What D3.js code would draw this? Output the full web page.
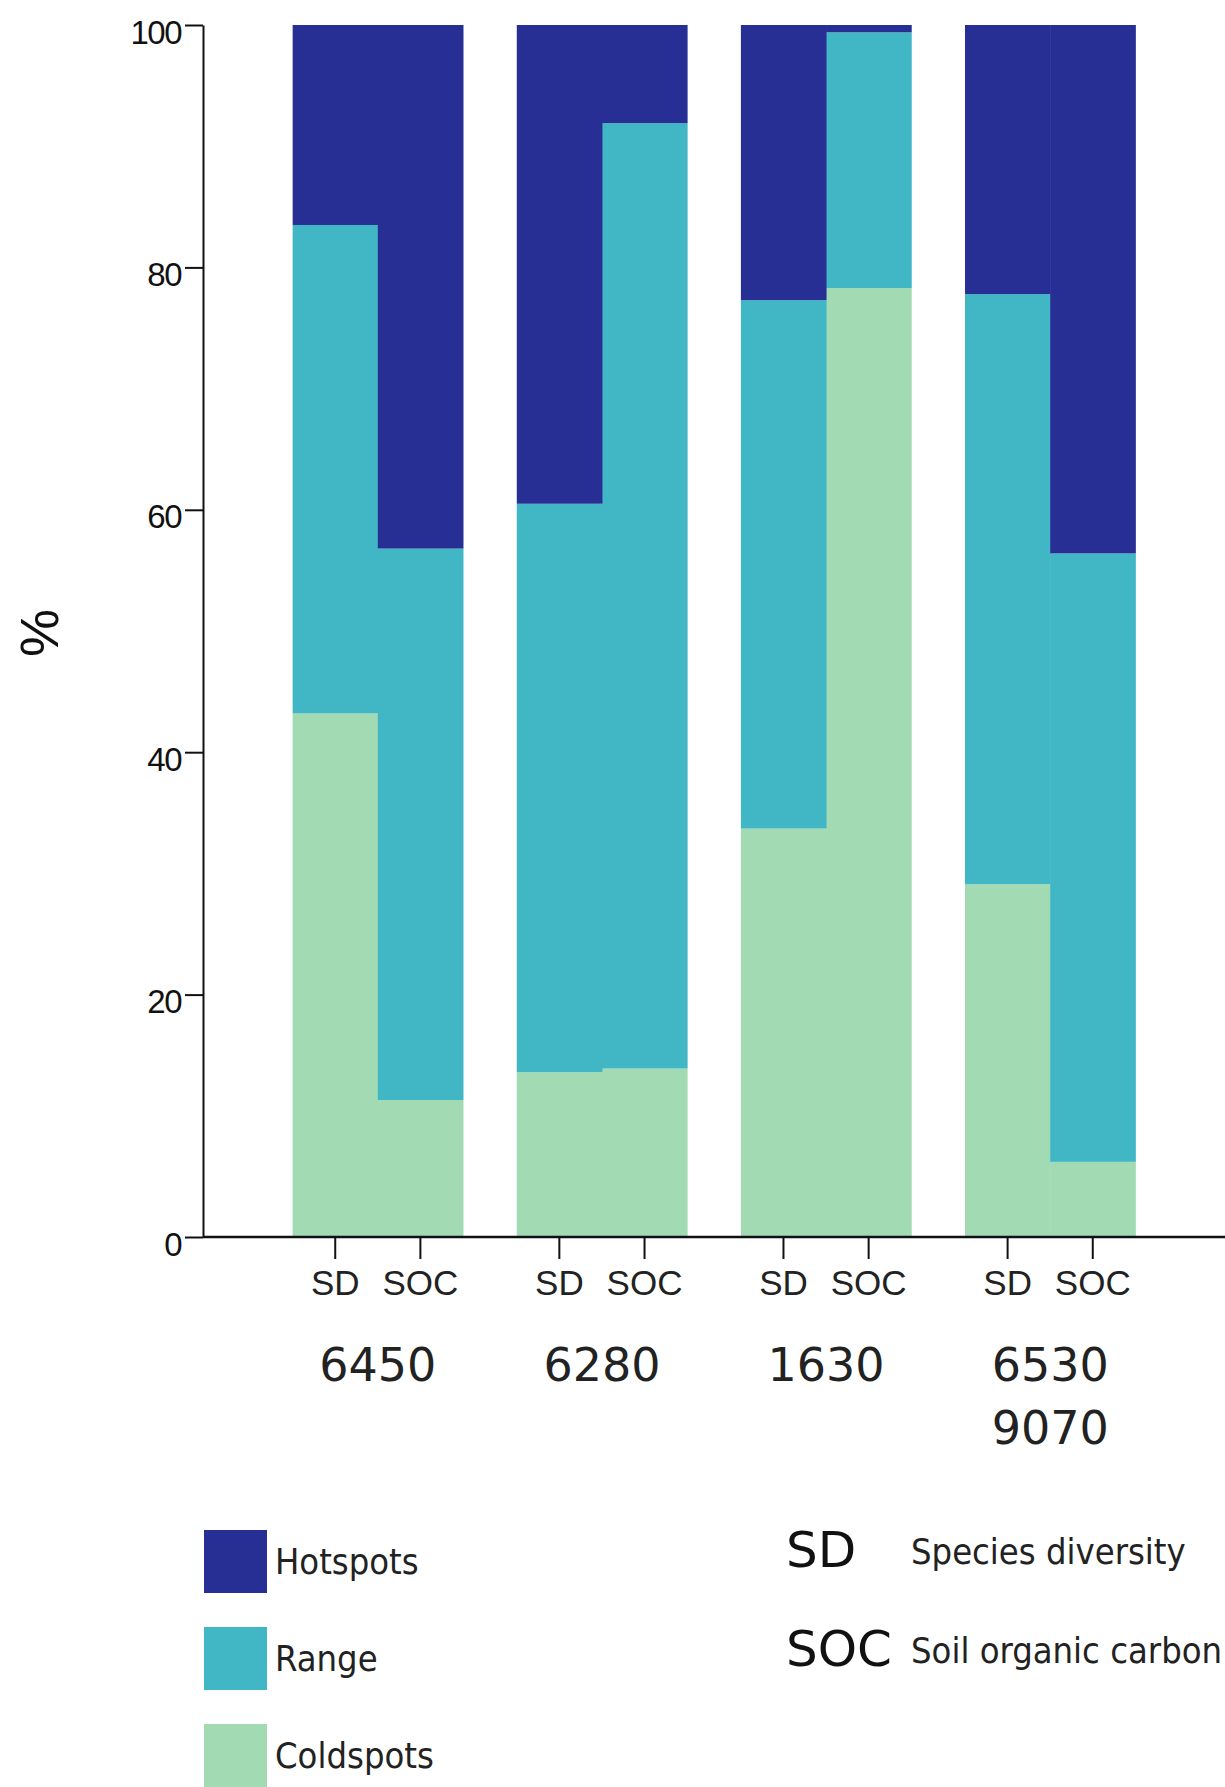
<!DOCTYPE html>
<html><head><meta charset="utf-8">
<script src="https://cdn.jsdelivr.net/npm/d3@7"></script>
<style>
html,body{margin:0;padding:0;background:#fff;}
svg{display:block;}
</style></head>
<body>
<svg id="chart" width="1225" height="1787"></svg>
<script>
// ---- data ----
const groups = ["6450", "6280", "1630", "6530\n9070"];
const measures = ["SD", "SOC"];
const seriesNames = ["Coldspots", "Range", "Hotspots"];
// values per bar, order: 6450 SD, 6450 SOC, 6280 SD, 6280 SOC, 1630 SD, 1630 SOC, 6530 SD, 6530 SOC
const coldspots = [43.2, 11.3, 13.6, 13.9, 33.7, 78.3, 29.1, 6.2];
const rangeVals = [40.3, 45.5, 46.9, 78.0, 43.6, 21.1, 48.7, 50.2];
const hotspots  = [16.5, 43.2, 39.5, 8.1, 22.7, 0.6, 22.2, 43.6];
const yTicks = [0, 20, 40, 60, 80, 100];
const legendOrder = ["Hotspots", "Range", "Coldspots"];
const abbrevs = ["SD", "SOC"];
const abbrevText = ["Species diversity", "Soil organic carbon"];

const colors = {Hotspots: "#272e94", Range: "#41b6c4", Coldspots: "#a2dab4"};

// ---- table ----
const rows = [];
groups.forEach((g, gi) => measures.forEach((m, mi) => {
  const i = gi * measures.length + mi;
  rows.push({group: g, measure: m, Coldspots: coldspots[i], Range: rangeVals[i], Hotspots: hotspots[i]});
}));

const svg = d3.select("#chart");
const x0 = 203, x1 = 1225, yTop = 25, yBot = 1237;

const x = d3.scaleBand().domain(groups).range([x0, x1]).paddingInner(0.24).paddingOuter(0.4);
const xi = d3.scaleBand().domain(measures).range([0, x.bandwidth()]).padding(0);
const y = d3.scaleLinear().domain([0, 100]).range([yBot, yTop]);

const stacked = d3.stack().keys(seriesNames)(rows);

svg.append("g").selectAll("g").data(stacked).join("g")
  .attr("fill", d => colors[d.key])
  .selectAll("rect").data(d => d).join("rect")
  .attr("x", d => x(d.data.group) + xi(d.data.measure))
  .attr("width", xi.bandwidth() + 0.5)
  .attr("y", d => y(d[1]))
  .attr("height", d => y(d[0]) - y(d[1]));

// y axis
const yAxis = svg.append("g").attr("transform", `translate(${x0},0)`)
  .call(d3.axisLeft(y).tickValues(yTicks).tickSize(18).tickSizeOuter(0).tickPadding(4));
yAxis.select(".domain").attr("stroke", "#111").attr("stroke-width", 2);
yAxis.selectAll(".tick line").attr("stroke", "#111").attr("stroke-width", 2);
yAxis.selectAll(".tick text")
  .attr("font-family", "Liberation Sans, Arial, sans-serif")
  .attr("font-size", 33).attr("fill", "#111").attr("letter-spacing", -1.5)
  .attr("dy", "0.55em");

// y label
svg.append("text")
  .attr("transform", "translate(58,633) rotate(-90)")
  .attr("text-anchor", "middle")
  .attr("font-family", "Liberation Sans, Arial, sans-serif")
  .attr("font-size", 54).attr("fill", "#111")
  .text("%");

// x axis line
svg.append("line").attr("x1", x0).attr("x2", x1).attr("y1", yBot).attr("y2", yBot)
  .attr("stroke", "#111").attr("stroke-width", 2.5);

// x ticks + measure labels
const subs = svg.append("g");
rows.forEach(r => {
  const cx = x(r.group) + xi(r.measure) + xi.bandwidth() / 2;
  subs.append("line").attr("x1", cx).attr("x2", cx).attr("y1", yBot).attr("y2", yBot + 22)
    .attr("stroke", "#111").attr("stroke-width", 2);
  subs.append("text").attr("x", cx).attr("y", 1295).attr("text-anchor", "middle")
    .attr("font-family", "Liberation Sans, Arial, sans-serif")
    .attr("font-size", 35).attr("fill", "#222")
    .text(r.measure);
});

// group labels
groups.forEach(g => {
  const cx = x(g) + x.bandwidth() / 2;
  g.split("\n").forEach((line, li) => {
    svg.append("text").attr("x", cx).attr("y", 1381 + li * 63).attr("text-anchor", "middle")
      .attr("font-family", "DejaVu Sans, Verdana, sans-serif")
      .attr("font-size", 46).attr("fill", "#222")
      .text(line);
  });
});

// legend
const lg = svg.append("g");
legendOrder.forEach((k, i) => {
  const yy = 1530 + i * 97;
  lg.append("rect").attr("x", 204).attr("y", yy).attr("width", 63).attr("height", 63).attr("fill", colors[k]);
  lg.append("text").attr("x", 275).attr("y", yy + 44)
    .attr("font-family", "DejaVu Sans Condensed, DejaVu Sans, sans-serif")
    .attr("font-stretch", "condensed")
    .attr("font-size", 36).attr("fill", "#222").text(k);
});

abbrevs.forEach((a, i) => {
  const yy = 1567 + i * 99;
  svg.append("text").attr("x", 786).attr("y", yy)
    .attr("font-family", "DejaVu Sans, Verdana, sans-serif")
    .attr("font-size", 50).attr("fill", "#111").text(a);
  svg.append("text").attr("x", 911).attr("y", yy - 3)
    .attr("font-family", "DejaVu Sans Condensed, DejaVu Sans, sans-serif")
    .attr("font-stretch", "condensed")
    .attr("font-size", 36).attr("fill", "#222").text(abbrevText[i]);
});
</script>
</body></html>
